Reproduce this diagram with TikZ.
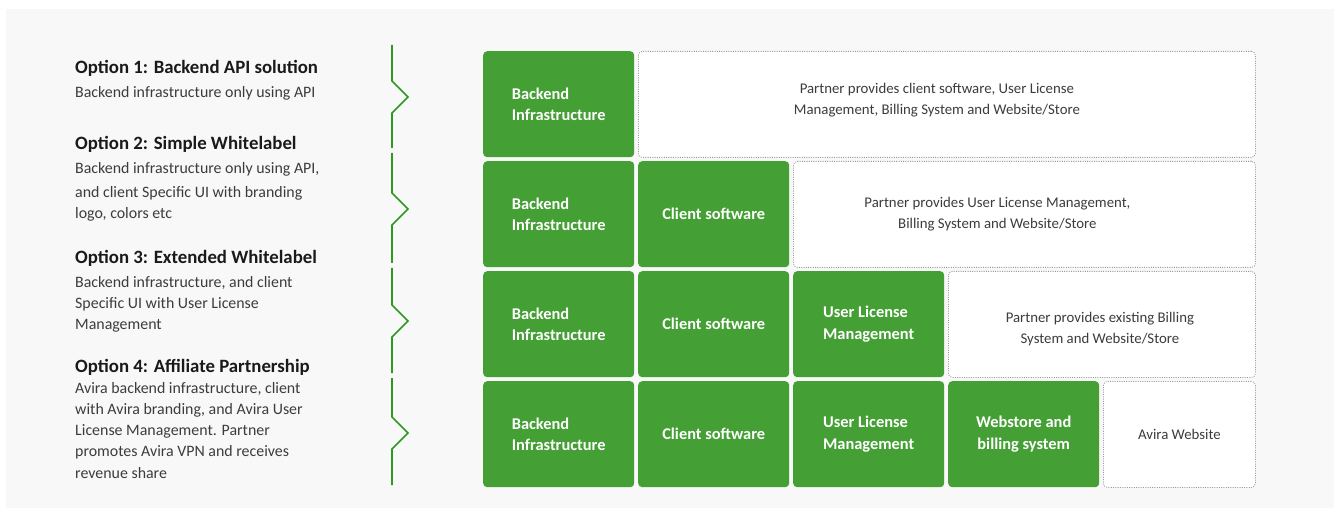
\documentclass[tikz,border=0pt]{standalone}
\usepackage{fontspec}
\setmainfont{Carlito}
\definecolor{bgc}{HTML}{F8F8F8}
\definecolor{avgreen}{HTML}{449F34}
\definecolor{brgreen}{HTML}{2C9A1E}
\definecolor{dotgray}{HTML}{9A9A9A}
\definecolor{headc}{HTML}{1A1A1A}
\definecolor{bodyc}{HTML}{3C3C3C}
\begin{document}
\begin{tikzpicture}[x=1pt,y=-1pt,
  gbox/.style={fill=avgreen, rounded corners=4pt, minimum width=151pt, minimum height=106pt,
    text=white, font=\fontsize{16.4}{21.5}\selectfont\bfseries, inner sep=0pt, anchor=north west},
  dbox/.style={draw=dotgray, line width=0.8pt, dash pattern=on 1pt off 1.3pt, rounded corners=4pt,
    fill=white, minimum height=106pt, inner sep=0pt, anchor=north west},
  dtext/.style={text=bodyc, font=\fontsize{14.8}{21}\selectfont, align=center, inner sep=0pt},
  head/.style={anchor=base west, inner sep=0pt, text=headc, font=\fontsize{18.8}{20}\selectfont\bfseries},
  desc/.style={anchor=base west, inner sep=0pt, text=bodyc, align=left, font=\fontsize{15.9}{21.2}\selectfont},
  brk/.style={draw=brgreen, line width=1.6pt}
]
\fill[white] (0,0) rectangle (1338,510);
\useasboundingbox (0,0) rectangle (1338,510);
\fill[bgc] (6,9) rectangle (1334,508);

% left texts (multi-line nodes anchored at the baseline of their last line)
\node[head] (h1) at (75,74) {Option 1: Backend API solution};
\node[desc] (d1) at (75,97.5) {Backend infrastructure only using API};
\node[head] (h2) at (75,150) {Option 2: Simple Whitelabel};
\node[desc] (d2) at (75,219) {Backend infrastructure only using API,\\[3pt]and client Specific UI with branding\\logo, colors etc};
\node[head] (h3) at (75,264) {Option 3: Extended Whitelabel};
\node[desc] (d3) at (75,330) {Backend infrastructure, and client\\Specific UI with User License\\Management};
\node[head] (h4) at (75,372) {Option 4: Affiliate Partnership};
\node[desc] (d4) at (75,478) {Avira backend infrastructure, client\\with Avira branding, and Avira User\\License Management. Partner\\promotes Avira VPN and receives\\revenue share};

% brackets
\foreach \t/\c/\b in {45/97/148, 153/209/263, 268/321/373, 378/433/485}{
  \draw[brk] (392,\t) -- (392,\c-16) -- (408,\c) -- (392,\c+16) -- (392,\b);
}

% row 1
\node[gbox, align=left] (b1) at (483,51) {Backend\\Infrastructure};
\node[dbox, minimum width=617pt] (p1) at (638,51) {};
\node[dtext] (t1) at ([xshift=-10pt,yshift=4.5pt]p1.center) {Partner provides client software, User License\\Management, Billing System and Website/Store};

% row 2
\node[gbox, align=left] (b2) at (483,161) {Backend\\Infrastructure};
\node[gbox] (c2) at (638,161) {Client software};
\node[dbox, minimum width=462pt] (p2) at (793,161) {};
\node[dtext] (t2) at ([xshift=-27pt]p2.center) {Partner provides User License Management,\\Billing System and Website/Store};

% row 3
\node[gbox, align=left] (b3) at (483,271) {Backend\\Infrastructure};
\node[gbox] (c3) at (638,271) {Client software};
\node[gbox, align=left] (u3) at (793,271) {User License\\Management};
\node[dbox, minimum width=307pt] (p3) at (948,271) {};
\node[dtext] (t3) at ([xshift=-2pt,yshift=-4.5pt]p3.center) {Partner provides existing Billing\\System and Website/Store};

% row 4
\node[gbox, align=left] (b4) at (483,381) {Backend\\Infrastructure};
\node[gbox] (c4) at (638,381) {Client software};
\node[gbox, align=left] (u4) at (793,381) {User License\\Management};
\node[gbox, align=center] (w4) at (948,381) {Webstore and\\billing system};
\node[dbox, minimum width=152pt] (p4) at (1103,381) {};
\node[dtext] (t4) at (p4.center) {Avira Website};
\end{tikzpicture}
\end{document}
